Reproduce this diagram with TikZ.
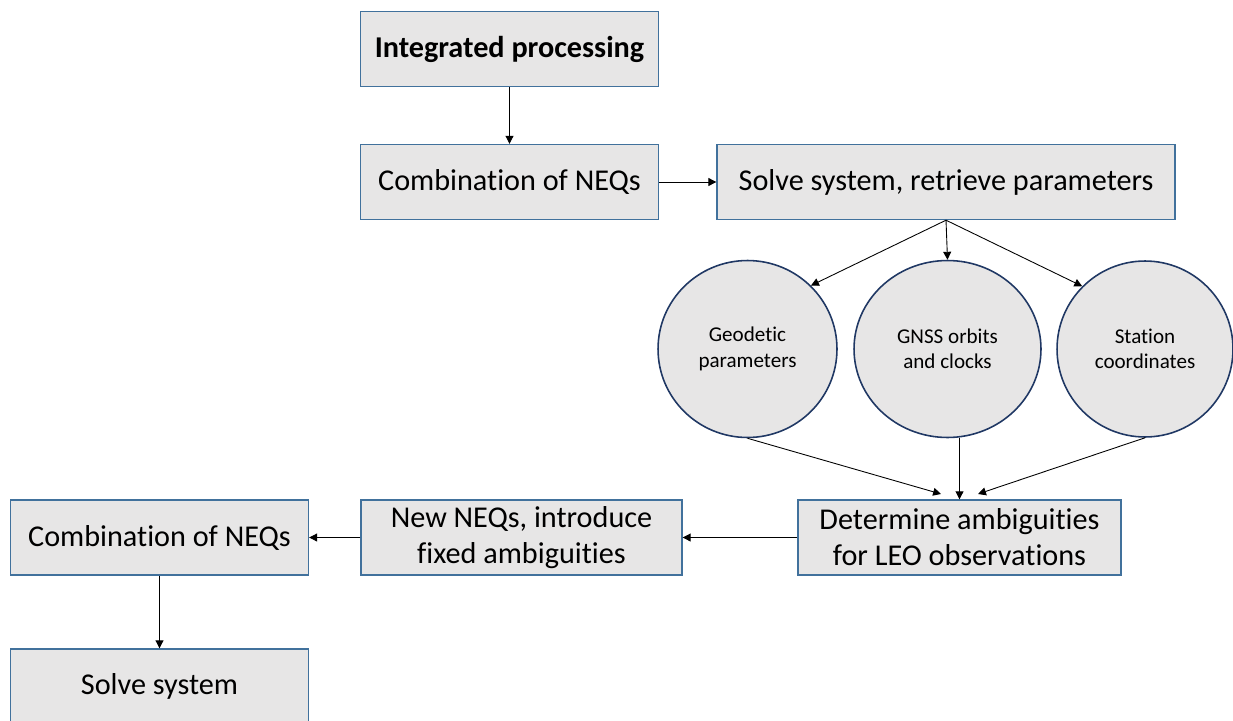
\documentclass[tikz,border=0pt]{standalone}
\usepackage{fontspec}
\setmainfont[Ligatures=NoCommon]{Carlito}
\usetikzlibrary{arrows.meta,shapes.geometric}
\definecolor{boxfill}{HTML}{E7E6E6}
\definecolor{boxline}{HTML}{41719C}
\definecolor{circline}{HTML}{203864}

\begin{document}
\begin{tikzpicture}[x=0.02cm,y=-0.02cm,
  stepbox/.style={rectangle,draw=boxline,fill=boxfill,line width=0.8pt,
    minimum height=1.5cm,align=center,inner sep=2pt,
    font=\fontsize{17.2}{20.6}\selectfont},
  param/.style={ellipse,draw=circline,fill=boxfill,line width=0.9pt,
    inner sep=0pt,align=center,font=\fontsize{12}{14.4}\selectfont},
  flow/.style={-{Triangle[length=4.5pt,width=4.5pt]},line width=0.5pt}]
\useasboundingbox (0,0) rectangle (1233,720);

% first pass
\node[stepbox,minimum width=5.96cm,font=\fontsize{17.2}{20.6}\selectfont\bfseries]
  (intp) at (509.5,49) {Integrated processing};
\node[stepbox,minimum width=5.96cm] (comb) at (509.5,182) {Combination of NEQs};
\node[stepbox,minimum width=9.16cm] (solve) at (946,182) {Solve system, retrieve parameters};

% retrieved parameters
\node[param,minimum width=3.58cm,minimum height=3.54cm] (geo) at (747.5,349) {Geodetic\\parameters};
\node[param,minimum width=3.74cm,minimum height=3.54cm] (gnss) at (947.5,349) {GNSS orbits\\and clocks};
\node[param,minimum width=3.52cm,minimum height=3.52cm] (sta) at (1145,349) {Station\\coordinates};

% ambiguity fixing
\node[stepbox,minimum width=6.46cm] (amb) at (959.5,537.5) {Determine ambiguities\\for LEO observations};
\node[stepbox,minimum width=6.42cm] (neweq) at (521.5,537.5) {New NEQs, introduce\\fixed ambiguities};
\node[stepbox,minimum width=5.96cm] (combfix) at (159.5,537.5) {Combination of NEQs};
\node[stepbox,minimum width=5.96cm] (solvefix) at (159.5,686.5) {Solve system};

\coordinate (ambl) at (941,494);
\coordinate (ambr) at (978,494);

\draw[flow] (intp) -- (comb);
\draw[flow] (comb) -- (solve);
\draw[flow] (solve.south) -- (geo.45);
\draw[flow] (solve.south) -- (gnss.north);
\draw[flow] (solve.south) -- (sta.135);
\draw[flow] (geo.south) -- (ambl);
\draw[flow] (amb.north |- gnss.south) -- (amb.north);
\draw[flow] (sta.south) -- (ambr);
\draw[flow] (amb) -- (neweq);
\draw[flow] (neweq) -- (combfix);
\draw[flow] (combfix) -- (solvefix);
\end{tikzpicture}
\end{document}
